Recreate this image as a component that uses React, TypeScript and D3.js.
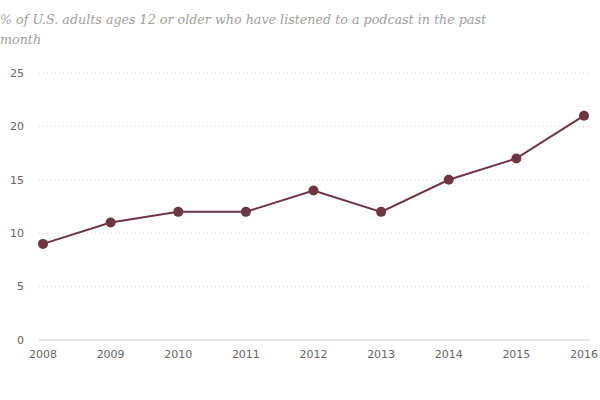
import React from 'react';
import * as d3 from 'd3';

const years = ['2008', '2009', '2010', '2011', '2012', '2013', '2014', '2015', '2016'];
const shares = [9, 11, 12, 12, 14, 12, 15, 17, 21];
const yTicks = [0, 5, 10, 15, 20, 25];
const titleLines = [
  '% of U.S. adults ages 12 or older who have listened to a podcast in the past',
  'month',
];

const W = 600;
const H = 400;
const color = '#6e3642';

const App: React.FC = () => {
  const x = d3.scalePoint<string>().domain(years).range([43, 584]);
  const y = d3.scaleLinear().domain([0, 25]).range([340, 73]);
  const line = d3
    .line<number>()
    .x((_, i) => x(years[i])!)
    .y((d) => y(d));

  return (
    <svg
      width={W}
      height={H}
      style={{ position: 'absolute', left: 0, top: 0, background: '#fff' }}
    >
      <text
        fill="#a0a0a0"
        fontFamily="'DejaVu Serif', serif"
        fontStyle="italic"
        fontSize={12.7}
      >
        {titleLines.map((t, i) => (
          <tspan key={i} x={0} y={24 + i * 19.5}>
            {t}
          </tspan>
        ))}
      </text>

      {yTicks.map((t) => (
        <g key={t}>
          {t > 0 && (
            <line
              x1={39}
              x2={589}
              y1={y(t)}
              y2={y(t)}
              stroke="#d8d8d8"
              strokeDasharray="1,3"
            />
          )}
          <text
            x={24}
            y={y(t)}
            dy="0.35em"
            textAnchor="end"
            fill="#666"
            fontFamily="'DejaVu Sans', sans-serif"
            fontSize={11}
          >
            {t}
          </text>
        </g>
      ))}
      <line x1={39} x2={590} y1={y(0)} y2={y(0)} stroke="#c4ced8" strokeWidth={1} />

      {years.map((yr) => (
        <text
          key={yr}
          x={x(yr)}
          y={358}
          textAnchor="middle"
          fill="#666"
          fontFamily="'DejaVu Sans', sans-serif"
          fontSize={11}
        >
          {yr}
        </text>
      ))}

      <path d={line(shares) ?? ''} fill="none" stroke={color} strokeWidth={2} />
      {shares.map((v, i) => (
        <circle key={i} cx={x(years[i])} cy={y(v)} r={5} fill={color} />
      ))}
    </svg>
  );
};

export default App;
